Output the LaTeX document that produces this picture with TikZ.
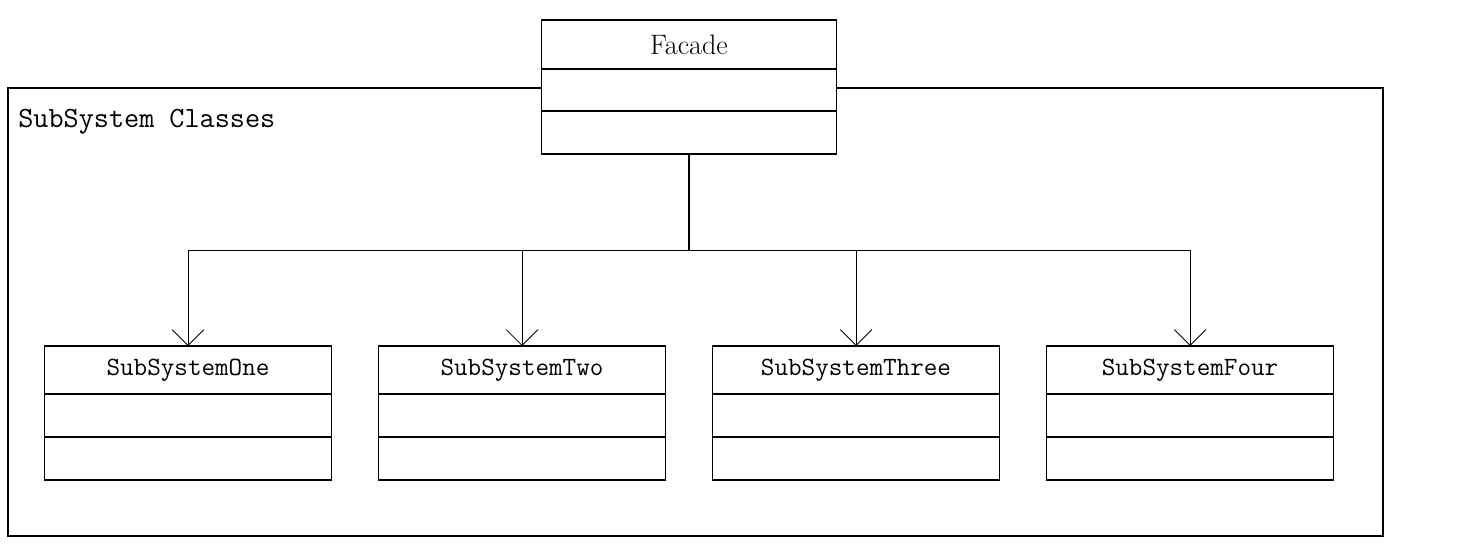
\documentclass[tikz,border=0pt]{standalone}
\usepackage{tikz}
\usetikzlibrary{positioning,calc,arrows.meta}

\begin{document}
\begin{tikzpicture}[
    cls/.style={rectangle, draw=black, fill=white, line width=1.1pt, inner sep=0pt, outer sep=0pt, minimum width=5.74cm, minimum height=0.86cm},
    title/.style={cls, minimum height=0.96cm, font=\fontsize{15}{17}\selectfont\ttfamily},
    facade/.style={cls, minimum width=5.9cm, minimum height=0.86cm},
    package/.style={rectangle, draw=black, line width=1.1pt, inner sep=0pt, outer sep=0pt, minimum width=27.5cm, minimum height=8.96cm},
    link/.style={-{Straight Barb[length=9pt,width=18pt]}, line width=0.5pt, color=black}
]
    \useasboundingbox (0,0) rectangle (29.22,-10.88);

    % Package frame and its label
    \node [package] (frame) at (13.91,-6.24) {};
    \node [anchor=base west, inner sep=0pt, font=\fontsize{16.7}{18}\selectfont\ttfamily] (pkglabel) at ($(frame.north west)+(0.2,-0.78)$) {SubSystem Classes};

    % Facade class (drawn over the frame)
    \node [facade, minimum height=0.98cm, font=\fontsize{16}{18}\selectfont] (fname) at (13.78,-0.89) {Facade};
    \node [facade, minimum height=0.84cm, below=0pt of fname] (fattr) {};
    \node [facade, below=0pt of fattr] (fops) {};

    % Subsystem classes
    \node [title] (onename) at (3.76,-7.4) {SubSystemOne};
    \node [cls, below=0pt of onename] (oneattr) {};
    \node [cls, below=0pt of oneattr] (oneops) {};

    \node [title, right=0.94cm of onename] (twoname) {SubSystemTwo};
    \node [cls, below=0pt of twoname] (twoattr) {};
    \node [cls, below=0pt of twoattr] (twoops) {};

    \node [title, right=0.94cm of twoname] (threename) {SubSystemThree};
    \node [cls, below=0pt of threename] (threeattr) {};
    \node [cls, below=0pt of threeattr] (threeops) {};

    \node [title, right=0.94cm of threename] (fourname) {SubSystemFour};
    \node [cls, below=0pt of fourname] (fourattr) {};
    \node [cls, below=0pt of fourattr] (fourops) {};

    % Connections from the facade
    \coordinate (bus) at ($(fops.south)+(0,-1.92)$);
    \draw [line width=1.1pt] (fops.south) -- (bus);
    \draw [link] (bus) -| (onename.north);
    \draw [link] (bus) -| (twoname.north);
    \draw [link] (bus) -| (threename.north);
    \draw [link] (bus) -| (fourname.north);
\end{tikzpicture}
\end{document}
